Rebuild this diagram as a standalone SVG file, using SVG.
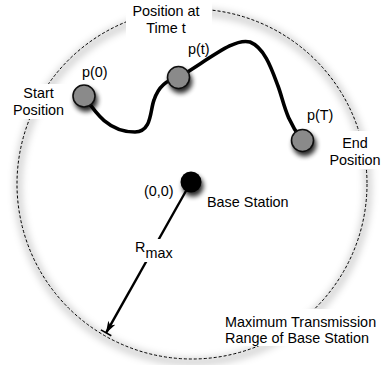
<svg xmlns="http://www.w3.org/2000/svg" width="383" height="365" viewBox="0 0 383 365">
<defs>
<filter id="nodeShadow" x="-60%" y="-60%" width="220%" height="220%">
<feGaussianBlur in="SourceAlpha" stdDeviation="2.4"/>
<feOffset dx="2" dy="4" result="b"/>
<feComponentTransfer><feFuncA type="linear" slope="0.85"/></feComponentTransfer>
<feMerge><feMergeNode/><feMergeNode in="SourceGraphic"/></feMerge>
</filter>
<filter id="ringShadow" x="-10%" y="-10%" width="120%" height="120%">
<feGaussianBlur stdDeviation="3.5"/>
</filter>
<marker id="arrow" viewBox="0 0 12 8" refX="11.5" refY="4" markerWidth="12" markerHeight="8" markerUnits="userSpaceOnUse" orient="auto">
<path d="M0,0 L12,4 L0,8 L3,4 Z" fill="#000"/>
</marker>
</defs>
<style>
text{font-family:"Liberation Sans",Arial,Helvetica,sans-serif;font-size:14.4px;fill:#000}
.node{fill:#8a8a8a;stroke:#111;stroke-width:1.6;filter:url(#nodeShadow)}
.bg{fill:#fff}
.mid{text-anchor:middle}
</style>
<g id="range">
<circle cx="193" cy="187" r="175" fill="none" stroke="#000" stroke-opacity="0.16" stroke-width="8" filter="url(#ringShadow)"/>
<circle cx="192" cy="184" r="175" fill="none" stroke="#000" stroke-width="1" stroke-dasharray="3,2"/>
</g>
<g id="connectors">
<path d="M84,96 C95,112 108,132 135,132 C152,132 150,110 154,100 C158,88 165,80 178,78 C215,55 235,38 250,42 C265,48 272,70 278,86 C284,102 285,118 302,140" fill="none" stroke="#000" stroke-width="3.6" stroke-linecap="round"/>
<line x1="191" y1="182" x2="106.1" y2="332.8" stroke="#000" stroke-width="2.4" marker-end="url(#arrow)"/>
<line x1="100.9" y1="329.9" x2="111.3" y2="335.7" stroke="#000" stroke-width="1.6"/>
</g>
<g id="label-time">
<rect class="bg" x="126" y="0" width="86" height="38"/>
<text class="mid" x="166" y="15.5">Position at</text>
<text class="mid" x="166" y="33">Time t</text>
</g>
<g id="label-start">
<rect class="bg" x="10" y="84" width="58" height="35"/>
<text class="mid" x="38.5" y="98">Start</text>
<text class="mid" x="38.5" y="115">Position</text>
</g>
<g id="label-end">
<rect class="bg" x="327" y="131" width="56" height="38"/>
<text class="mid" x="355" y="148">End</text>
<text class="mid" x="355" y="165">Position</text>
</g>
<g id="label-range">
<rect class="bg" x="222" y="309" width="161" height="37"/>
<text x="225" y="327">Maximum Transmission</text>
<text x="225" y="343">Range of Base Station</text>
</g>
<g id="label-rmax">
<rect class="bg" x="133" y="239" width="43" height="23"/>
<text x="135" y="252">R<tspan dy="6">max</tspan></text>
</g>
<g id="node-p0">
<circle class="node" cx="84" cy="96" r="11"/>
<text x="82" y="77">p(0)</text>
</g>
<g id="node-pt">
<circle class="node" cx="178.5" cy="77.5" r="11"/>
<text x="188" y="54">p(t)</text>
</g>
<g id="node-pT">
<circle class="node" cx="302.5" cy="140.5" r="11"/>
<text x="307" y="120">p(T)</text>
</g>
<g id="node-base">
<circle cx="191" cy="182" r="10.5" fill="#000" filter="url(#nodeShadow)"/>
<text x="173.5" y="196" text-anchor="end">(0,0)</text>
<text x="207" y="207">Base Station</text>
</g>
</svg>
